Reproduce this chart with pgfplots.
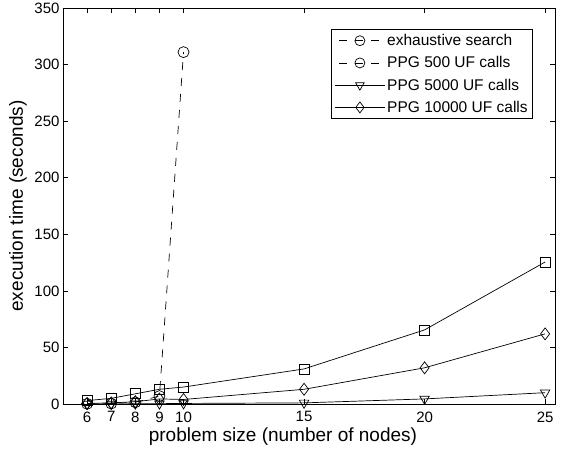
\documentclass[border=0pt]{standalone}
\usepackage{pgfplots}
\pgfplotsset{compat=1.18}
\usepackage{fontspec}
\setmainfont{Liberation Sans}
\pgfplotsset{
  mylegend/.style={legend image code/.code={%
    \draw[mark repeat=2,mark phase=2] plot coordinates {(0pt,0pt)(25pt,0pt)(50pt,0pt)};}},
}
\begin{document}
\begin{tikzpicture}
\useasboundingbox (-63pt,-49pt) rectangle (501pt,404pt);
\begin{axis}[at={(0pt,0pt)}, anchor=south west, scale only axis,
  width=492pt, height=396pt,
  xmin=5, xmax=25.41, ymin=0, ymax=350,
  xtick={6,7,8,9,10,15,20,25}, ytick={0,50,...,350},
  tick align=inside, major tick length=5pt,
  tick label style={font=\fontsize{15}{17}\selectfont},
  xticklabel style={yshift=-4pt},
  /pgf/number format/assume math mode=true,
  xlabel={problem size (number of nodes)},
  ylabel={execution time (seconds)},
  label style={font=\fontsize{19}{21}\selectfont},
  xlabel style={at={(axis description cs:0.447,-0.083)}, anchor=center},
  ylabel style={at={(axis description cs:-0.0915,0.5)}, anchor=center},
  legend style={at={(0.9553,0.947)}, anchor=north east, draw=black, line width=0.7pt,
    font=\fontsize{15.5}{18}\selectfont, row sep=5.5pt, inner sep=3pt},
  legend cell align=left,
  axis line style={line width=0.8pt},
  every tick/.style={black, line width=0.6pt},
  every axis plot/.append style={black, line width=0.7pt, mark options={solid, fill=none}},
]
\addplot[dash pattern=on 8pt off 8pt, mark=o, mark size=5.5pt, forget plot] coordinates {(6,0.2)(7,0.4)(8,1.5)(9,7)(10,311)};
\addplot[mark=square, mark size=5pt, forget plot] coordinates {(6,3)(7,5)(8,9)(9,13)(10,15)(15,31)(20,65.5)(25,125.5)};
\addplot[mark=triangle, mark size=5.5pt, mark options={rotate=180}, forget plot] coordinates {(6,0)(7,0)(8,0.2)(9,0.3)(10,0.5)(15,1)(20,4.5)(25,10)};
\addplot[mark=diamond, mark size=6pt, forget plot] coordinates {(6,0.5)(7,1)(8,2)(9,4.5)(10,4)(15,13)(20,32)(25,62)};
\addlegendimage{mylegend, black, line width=0.7pt, dash pattern=on 8pt off 8pt, dash phase=12pt, mark=o, mark size=5pt, mark options={solid}}
\addlegendentry{exhaustive search}
\addlegendimage{mylegend, black, line width=0.7pt, dash pattern=on 8pt off 8pt, dash phase=12pt, mark=o, mark size=5pt, mark options={solid}}
\addlegendentry{PPG 500 UF calls}
\addlegendimage{mylegend, black, line width=0.7pt, mark=triangle, mark size=5pt, mark options={solid, rotate=180}}
\addlegendentry{PPG 5000 UF calls}
\addlegendimage{mylegend, black, line width=0.7pt, mark=diamond, mark size=5.5pt, mark options={solid}}
\addlegendentry{PPG 10000 UF calls}
\end{axis}
\end{tikzpicture}
\end{document}
